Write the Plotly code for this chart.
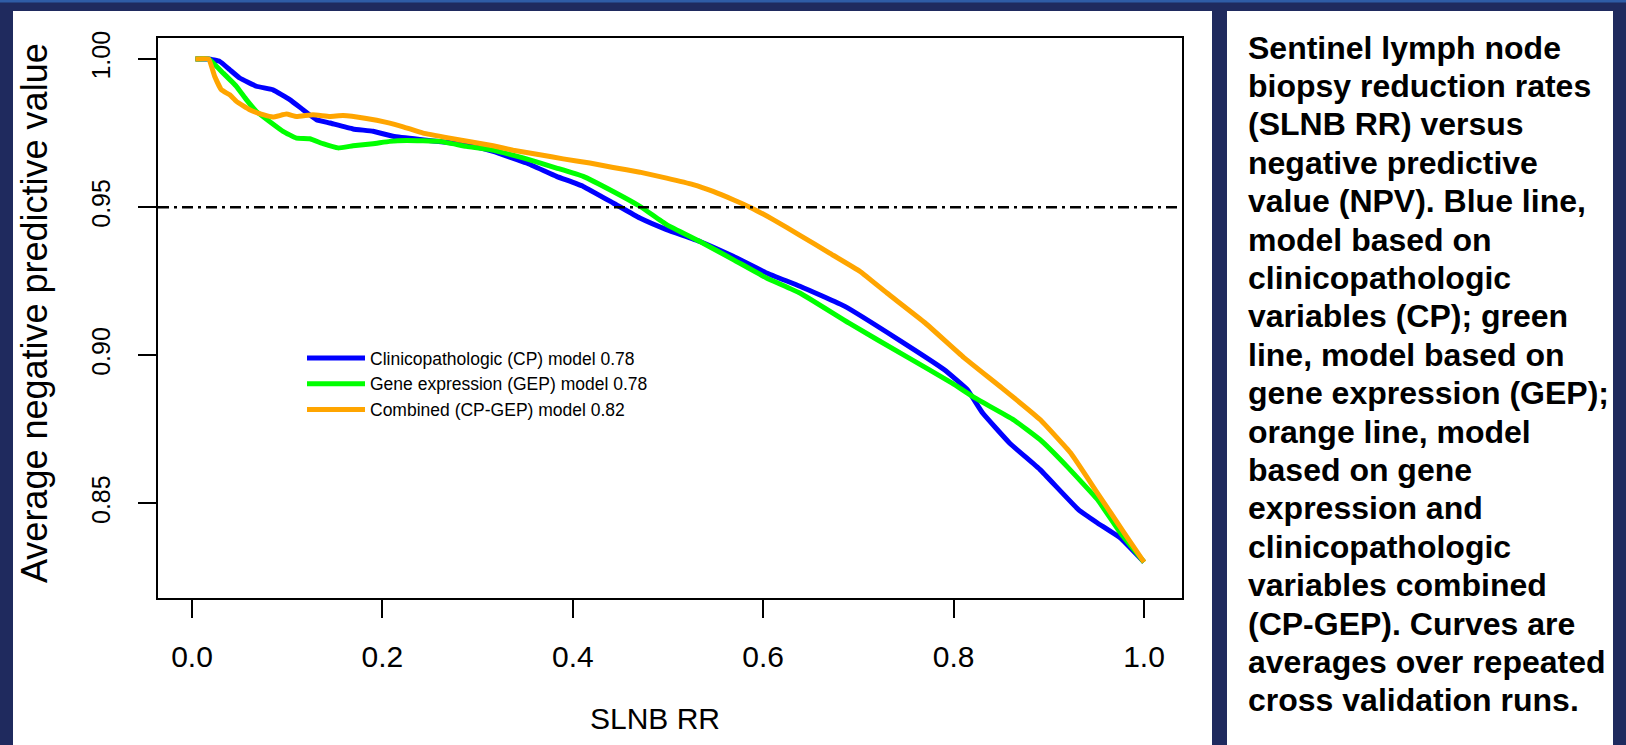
import plotly.graph_objects as go

# ---------------- data ----------------
cp_x = [0.0036, 0.0175, 0.0291, 0.0396, 0.0501, 0.0677, 0.0851, 0.1027, 0.1166, 0.1307,
        0.1447, 0.1692, 0.1902, 0.2112, 0.2392, 0.2673, 0.2953, 0.3163, 0.3514, 0.3829,
        0.4109, 0.4424, 0.4704, 0.4985, 0.5335, 0.5685, 0.6035, 0.6386, 0.6858, 0.7420,
        0.7903, 0.8144, 0.8305, 0.8587, 0.8908, 0.9311, 0.9511, 0.9753, 1.0]
cp_y = [1.0, 1.0, 0.9992, 0.9964, 0.9936, 0.9908, 0.9896, 0.9863, 0.9829, 0.9795,
        0.9784, 0.9764, 0.9756, 0.9739, 0.9728, 0.9719, 0.9705, 0.9688, 0.9649, 0.9604,
        0.9570, 0.9514, 0.9463, 0.9424, 0.9384, 0.9334, 0.9278, 0.9233, 0.9165, 0.9053,
        0.8951, 0.8884, 0.8805, 0.8704, 0.8614, 0.8479, 0.8434, 0.8383, 0.8302]

gep_x = [0.0036, 0.0175, 0.0326, 0.0466, 0.0571, 0.0677, 0.0816, 0.0956, 0.1097, 0.1237,
         0.1376, 0.1534, 0.1692, 0.1902, 0.2077, 0.2253, 0.2603, 0.2883, 0.3128, 0.3478,
         0.3829, 0.4109, 0.4424, 0.4704, 0.4985, 0.5335, 0.5685, 0.6035, 0.6386, 0.6898,
         0.7501, 0.7984, 0.8224, 0.8627, 0.8908, 0.9190, 0.9511, 0.9753, 1.0]
gep_y = [1.0, 1.0, 0.9953, 0.9908, 0.9863, 0.9823, 0.9789, 0.9756, 0.9733, 0.9731,
         0.9714, 0.9700, 0.9707, 0.9714, 0.9722, 0.9725, 0.9722, 0.9705, 0.9694, 0.9666,
         0.9632, 0.9604, 0.9553, 0.9503, 0.9441, 0.9384, 0.9323, 0.9261, 0.9210, 0.9109,
         0.8996, 0.8906, 0.8856, 0.8783, 0.8715, 0.8625, 0.8513, 0.8400, 0.8302]

comb_x = [0.0036, 0.0175, 0.0239, 0.0309, 0.0396, 0.0466, 0.0606, 0.0746, 0.0851, 0.0992,
          0.1097, 0.1271, 0.1447, 0.1587, 0.1832, 0.2043, 0.2218, 0.2428, 0.2709, 0.2953,
          0.3163, 0.3373, 0.3654, 0.3899, 0.4179, 0.4424, 0.4704, 0.4985, 0.5264, 0.5474,
          0.5685, 0.5860, 0.6105, 0.6386, 0.6697, 0.7018, 0.7300, 0.7702, 0.8105, 0.8506,
          0.8908, 0.9230, 0.9511, 0.9793, 1.0]
comb_y = [1.0, 1.0, 0.9941, 0.9896, 0.9879, 0.9857, 0.9829, 0.9812, 0.9804, 0.9814,
          0.9806, 0.9812, 0.9806, 0.9809, 0.9799, 0.9786, 0.9771, 0.9750, 0.9733, 0.9719,
          0.9707, 0.9692, 0.9677, 0.9663, 0.9649, 0.9634, 0.9618, 0.9598, 0.9576, 0.9553,
          0.9525, 0.9500, 0.9458, 0.9405, 0.9345, 0.9283, 0.9210, 0.9109, 0.8993, 0.8890,
          0.8783, 0.8670, 0.8535, 0.8400, 0.8302]

series_names = ["Clinicopathologic (CP) model 0.78",
                "Gene expression (GEP) model 0.78",
                "Combined (CP-GEP) model 0.82"]
series_colors = ["#0000ff", "#00ff00", "#ffa500"]

npv_threshold = 0.95
x_ticks = [0.0, 0.2, 0.4, 0.6, 0.8, 1.0]
x_ticktext = ["0.0", "0.2", "0.4", "0.6", "0.8", "1.0"]
y_ticks = [0.85, 0.90, 0.95, 1.00]
y_ticktext = ["0.85", "0.90", "0.95", "1.00"]

x_title = "SLNB RR"
y_title = "Average negative predictive value"

caption_lines = [
    "Sentinel lymph node",
    "biopsy reduction rates",
    "(SLNB RR) versus",
    "negative predictive",
    "value (NPV). Blue line,",
    "model based on",
    "clinicopathologic",
    "variables (CP); green",
    "line, model based on",
    "gene expression (GEP);",
    "orange line, model",
    "based on gene",
    "expression and",
    "clinicopathologic",
    "variables combined",
    "(CP-GEP). Curves are",
    "averages over repeated",
    "cross validation runs.",
]

# ---------------- layout geometry (pixels) ----------------
W, H = 1626, 745
L, R, T, B = 158, 1182, 38, 598  # plot area box in pixels
PW, PH = R - L, B - T


def xp(px):
    return (px - L) / PW


def yp(py):
    return (B - py) / PH


FONT = "Liberation Sans, Arial, Helvetica, sans-serif"
NAVY = "#1f2a5e"

fig = go.Figure()

for xs, ys, name, col in [(cp_x, cp_y, series_names[0], series_colors[0]),
                          (gep_x, gep_y, series_names[1], series_colors[1]),
                          (comb_x, comb_y, series_names[2], series_colors[2])]:
    fig.add_trace(go.Scatter(x=xs, y=ys, mode="lines", name=name,
                             line=dict(color=col, width=5, shape="spline", smoothing=0.3)))

# threshold line
fig.add_shape(type="line", xref="paper", yref="y", x0=0, x1=1,
              y0=npv_threshold, y1=npv_threshold,
              line=dict(color="black", width=2.5, dash="11px,5px,3px,5px"))

# background panels
shapes_bg = [
    dict(type="rect", xref="paper", yref="paper", x0=xp(-5), x1=xp(W + 5), y0=yp(-5), y1=yp(2.5),
         fillcolor="#2f5ca6", line=dict(width=0), layer="below"),
    dict(type="rect", xref="paper", yref="paper", x0=xp(13), x1=xp(1212), y0=yp(11), y1=yp(H + 5),
         fillcolor="white", line=dict(width=0), layer="below"),
    dict(type="rect", xref="paper", yref="paper", x0=xp(1227), x1=xp(1613), y0=yp(11), y1=yp(H + 5),
         fillcolor="white", line=dict(width=0), layer="below"),
]
for s in shapes_bg:
    fig.add_shape(**s)

annotations = []
# axis titles
annotations.append(dict(text=x_title, xref="paper", yref="paper", x=xp(655), y=yp(718),
                        showarrow=False, font=dict(family=FONT, size=30, color="black"),
                        xanchor="center", yanchor="middle"))
annotations.append(dict(text=y_title, xref="paper", yref="paper", x=xp(34), y=yp(313),
                        showarrow=False, textangle=-90,
                        font=dict(family=FONT, size=36, color="black"),
                        xanchor="center", yanchor="middle"))
# caption
for i, line in enumerate(caption_lines):
    annotations.append(dict(text="<b>" + line + "</b>", xref="paper", yref="paper",
                            x=xp(1246), y=yp(47.5 + i * 38.4), showarrow=False,
                            xanchor="left", yanchor="middle",
                            font=dict(family=FONT, size=32, color="black")))

fig.update_layout(
    width=W, height=H,
    margin=dict(l=L, r=W - R, t=T, b=H - B, pad=0),
    paper_bgcolor=NAVY,
    plot_bgcolor="white",
    annotations=annotations,
    showlegend=True,
    legend=dict(x=xp(302), y=yp(340), xanchor="left", yanchor="top",
                bgcolor="rgba(0,0,0,0)", borderwidth=0,
                font=dict(family=FONT, size=17.5, color="black"),
                tracegroupgap=0, itemwidth=58),
    xaxis=dict(range=[-0.0357, 1.0399], tickvals=x_ticks, ticktext=x_ticktext,
               ticks="outside", ticklen=18, tickwidth=1.5, tickcolor="black",
               showline=True, mirror=True, linecolor="black", linewidth=1.5,
               showgrid=False, zeroline=False, ticklabelstandoff=13,
               tickfont=dict(family=FONT, size=30, color="black")),
    yaxis=dict(range=[0.81807, 1.00709], tickvals=y_ticks, ticktext=y_ticktext,
               ticks="outside", ticklen=18, tickwidth=1.5, tickcolor="black",
               showline=True, mirror=True, linecolor="black", linewidth=1.5,
               showgrid=False, zeroline=False, tickangle=-90, ticklabelstandoff=18,
               tickfont=dict(family=FONT, size=25, color="black")),
)

fig.write_html("out.html", config={"displayModeBar": False},
               post_script="document.body.style.margin='0';document.body.style.overflow='hidden';")
